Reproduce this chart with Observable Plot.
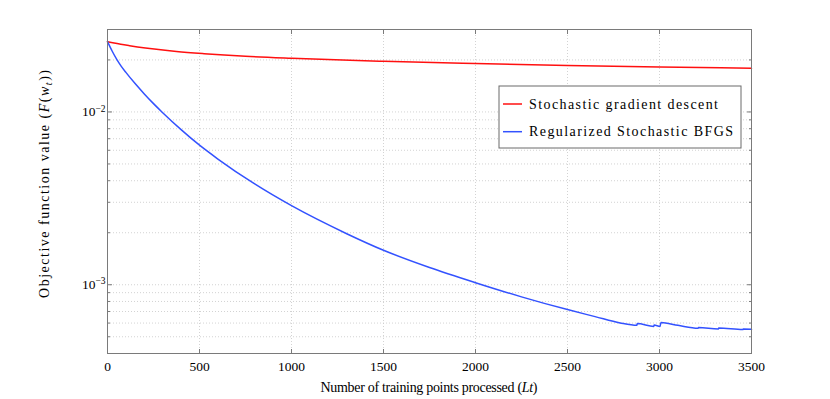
<!DOCTYPE html>
<html><head><meta charset="utf-8">
<script src="https://cdn.jsdelivr.net/npm/d3@7"></script>
<script src="https://cdn.jsdelivr.net/npm/@observablehq/plot@0.6"></script>
<style>
html,body{margin:0;padding:0;background:#fff;}
</style></head><body><div id="chart"></div>
<script>
// ---- data ----
const seriesNames = ["Stochastic gradient descent", "Regularized Stochastic BFGS"];
const seriesColors = ["#ff1010", "#3352ff"];

const sgdT = [0, 36, 72, 120, 163, 254, 375, 525, 750, 1000, 1500, 2000, 2500, 3000, 3500];
const sgdF = [0.0255, 0.02503, 0.02463, 0.02417, 0.02379, 0.02310, 0.02237, 0.02172, 0.02098, 0.02043, 0.01963, 0.01904, 0.01856, 0.01819, 0.01790];

const bfgsT = [0, 25, 51, 75, 100, 150, 200, 250, 300, 400, 500, 600, 800, 1000, 1300, 1500, 1750, 2000, 2250, 2500, 2650, 2786, 2877, 2879, 2969, 2971, 3003, 3008, 3100, 3210, 3212, 3320, 3322, 3453, 3455, 3500];
const bfgsF = [0.0255, 0.02252, 0.02009, 0.01837, 0.01694, 0.01459, 0.01271, 0.01117, 0.00990, 0.00790, 0.00642, 0.00534, 0.00383, 0.002867, 0.001974, 0.001583, 0.001258, 0.001028, 0.000851, 0.000718, 0.000654, 0.000601, 0.000582, 0.000596, 0.000574, 0.000585, 0.000574, 0.000604, 0.000582, 0.000560, 0.000565, 0.000555, 0.000562, 0.000550, 0.000555, 0.000552];

const xTicks = [0, 500, 1000, 1500, 2000, 2500, 3000, 3500];
const yMajorTicks = [1e-3, 1e-2];
const yMinorTicks = [4e-4, 5e-4, 6e-4, 7e-4, 8e-4, 9e-4, 2e-3, 3e-3, 4e-3, 5e-3, 6e-3, 7e-3, 8e-3, 9e-3, 2e-2, 3e-2];
const xDomain = [0, 3500];
const yDomain = [4e-4, 3e-2];

const rows = [
  ...sgdT.map((t, i) => ({t, f: sgdF[i], s: seriesNames[0]})),
  ...bfgsT.map((t, i) => ({t, f: bfgsF[i], s: seriesNames[1]}))
];

const FONT = "'Liberation Serif', 'DejaVu Serif', serif";
const frameColor = "#7a7a7a";
const gridStyle = {stroke: "#c8c8c8", strokeOpacity: 1, strokeWidth: 0.8, strokeDasharray: "1,2"};
const tickOnly = {fill: "none", label: null, stroke: frameColor};

const chart = Plot.plot({
  width: 830, height: 399,
  marginLeft: 107, marginRight: 79, marginTop: 29, marginBottom: 46,
  style: {fontFamily: FONT, fontSize: "13px", background: "#fff", color: "#000", overflow: "visible"},
  x: {domain: xDomain, label: null},
  y: {type: "log", domain: yDomain, label: null},
  color: {domain: seriesNames, range: seriesColors},
  marks: [
    Plot.gridX(xTicks, gridStyle),
    Plot.gridY([...yMajorTicks, ...yMinorTicks], gridStyle),
    Plot.line(rows, {x: "t", y: "f", z: "s", stroke: "s", strokeWidth: 1.5, curve: "monotone-x"}),
    // tick labels
    Plot.axisX(xTicks, {anchor: "bottom", tickSize: 0, tickPadding: 8, label: null, fontSize: 13.5,
      tickFormat: d => String(d)}),
    Plot.axisY(yMajorTicks, {anchor: "left", tickSize: 0, tickPadding: 2, label: null, fontSize: 13.5,
      tickFormat: d => String(Math.round(Math.log10(d)))}),
    // inward ticks
    Plot.axisX(xTicks, {anchor: "bottom", tickSize: 4, dy: -4, ...tickOnly}),
    Plot.axisX(xTicks, {anchor: "top", tickSize: 4, dy: 4, ...tickOnly}),
    Plot.axisY(yMajorTicks, {anchor: "left", tickSize: 5, dx: 5, ...tickOnly}),
    Plot.axisY(yMajorTicks, {anchor: "right", tickSize: 5, dx: -5, ...tickOnly}),
    Plot.axisY(yMinorTicks, {anchor: "left", tickSize: 3, dx: 3, ...tickOnly}),
    Plot.axisY(yMinorTicks, {anchor: "right", tickSize: 3, dx: -3, ...tickOnly}),
    Plot.frame({stroke: frameColor, strokeWidth: 1})
  ]
});
document.getElementById("chart").appendChild(chart);

const svg = d3.select(chart);

// superscript powers of ten on y tick labels
svg.selectAll('g[aria-label="y-axis tick label"] text').each(function() {
  const t = d3.select(this);
  const p = t.text();
  t.text(null);
  t.append("tspan").text("10");
  t.append("tspan").attr("dy", "-0.5em").attr("font-size", "9.5px").text(p.replace("-", "\u2212"));
});

// axis titles
const xl = svg.append("text").attr("x", 429).attr("y", 392).attr("text-anchor", "middle")
  .attr("font-family", FONT).attr("font-size", "14px").attr("fill", "#000");
xl.append("tspan").text("Number of training points processed (");
xl.append("tspan").attr("font-style", "italic").text("Lt");
xl.append("tspan").text(")");
xl.attr("textLength", 217).attr("lengthAdjust", "spacing");

const yl = svg.append("text").attr("transform", "translate(49,184) rotate(-90)").attr("text-anchor", "middle")
  .attr("font-family", FONT).attr("font-size", "14px").attr("fill", "#000");
yl.append("tspan").text("Objective function value (");
yl.append("tspan").attr("font-style", "italic").text("F");
yl.append("tspan").text("(");
yl.append("tspan").attr("font-style", "italic").text("w");
yl.append("tspan").attr("font-style", "italic").attr("font-size", "10px").attr("dy", "3").text("t");
yl.append("tspan").attr("dy", "-3").text("))");
yl.attr("textLength", 228).attr("lengthAdjust", "spacing");

// legend
const lg = svg.append("g");
lg.append("rect").attr("x", 499).attr("y", 86).attr("width", 242).attr("height", 62)
  .attr("fill", "#fff").attr("stroke", "#6a6a6a").attr("stroke-width", 1);
const legendWidths = [189, 204];
seriesNames.forEach((name, i) => {
  const cy = 104 + i * 27.7;
  lg.append("line").attr("x1", 503).attr("x2", 522).attr("y1", cy).attr("y2", cy)
    .attr("stroke", seriesColors[i]).attr("stroke-width", 1.5);
  lg.append("text").attr("x", 529).attr("y", cy).attr("dy", "0.33em").attr("text-anchor", "start")
    .attr("font-family", FONT).attr("font-size", "14px").attr("fill", "#000")
    .attr("textLength", legendWidths[i]).attr("lengthAdjust", "spacing").text(name);
});
</script>
</body></html>
